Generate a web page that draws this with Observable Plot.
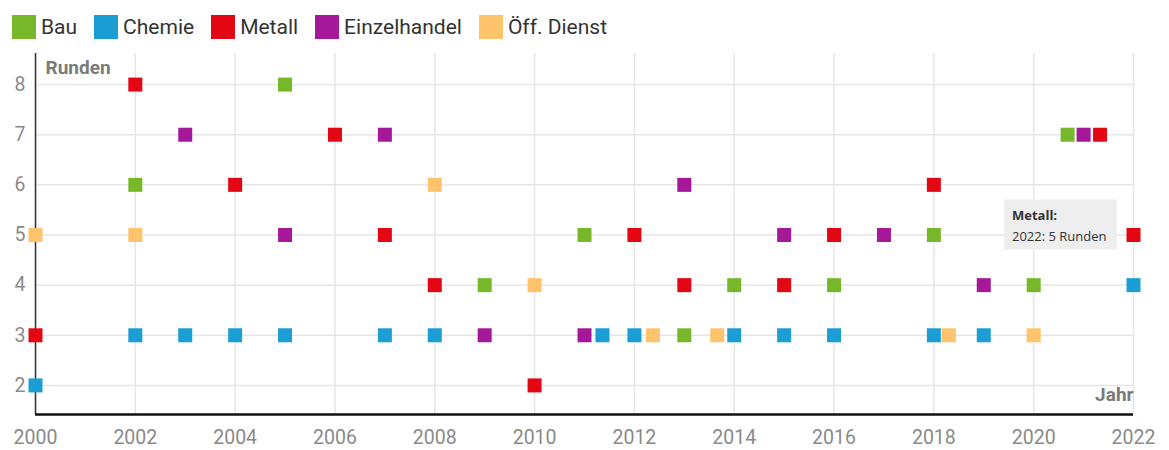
<!DOCTYPE html>
<html>
<head>
<meta charset="utf-8">
<script src="https://cdn.jsdelivr.net/npm/d3@7"></script>
<script src="https://cdn.jsdelivr.net/npm/@observablehq/plot@0.6"></script>
<style>
  html, body { margin: 0; padding: 0; background: #fff; }
  #legend { height: 44px; box-sizing: border-box; padding: 9px 0 0 12px; display: flex; align-items: center; font-family: Roboto, sans-serif; font-size: 21px; color: #333; }
  #legend .item { display: flex; align-items: center; margin-right: 17px; height: 24px; }
  #legend .sw { width: 24px; height: 24px; margin-right: 5px; }
  svg { display: block; }
</style>
</head>
<body>
<div id="legend"></div>
<div id="chart"></div>
<script>
// ---- data ----
const seriesNames = ["Bau", "Chemie", "Metall", "Einzelhandel", "Öff. Dienst"];
const seriesColors = ["#76b82a", "#1a9ed4", "#e30613", "#a5189a", "#fec36b"];

const bauYears = [2002, 2005, 2009, 2011, 2013, 2014, 2016, 2018, 2020, 2020.68];
const bauRunden = [6, 8, 4, 5, 3, 4, 4, 5, 4, 7];

const chemieYears = [2000, 2002, 2003, 2004, 2005, 2007, 2008, 2011.36, 2012, 2014, 2015, 2016, 2018, 2019, 2022];
const chemieRunden = [2, 3, 3, 3, 3, 3, 3, 3, 3, 3, 3, 3, 3, 3, 4];

const metallYears = [2000, 2002, 2004, 2006, 2007, 2008, 2010, 2012, 2013, 2015, 2016, 2018, 2021.33, 2022];
const metallRunden = [3, 8, 6, 7, 5, 4, 2, 5, 4, 4, 5, 6, 7, 5];

const einzelYears = [2003, 2005, 2007, 2009, 2011, 2013, 2015, 2017, 2019, 2021];
const einzelRunden = [7, 5, 7, 3, 3, 6, 5, 5, 4, 7];

const oeffYears = [2000, 2002, 2008, 2010, 2012.37, 2013.66, 2018.3, 2020];
const oeffRunden = [5, 5, 6, 4, 3, 3, 3, 3];

const xTicks = [2000, 2002, 2004, 2006, 2008, 2010, 2012, 2014, 2016, 2018, 2020, 2022];
const yTicks = [2, 3, 4, 5, 6, 7, 8];
const xDomain = [2000, 2022];
const yDomain = [1.42, 8.62];

const tipSeries = ["Metall"];
const tipYear = [2022];
const tipRunden = [5];

// ---- build table ----
const allYears = [bauYears, chemieYears, metallYears, einzelYears, oeffYears];
const allRunden = [bauRunden, chemieRunden, metallRunden, einzelRunden, oeffRunden];
const rows = [];
seriesNames.forEach((s, i) => {
  allYears[i].forEach((y, j) => rows.push({series: s, year: y, runden: allRunden[i][j]}));
});

// ---- legend ----
const legend = document.getElementById("legend");
seriesNames.forEach((s, i) => {
  const it = document.createElement("div");
  it.className = "item";
  const sw = document.createElement("div");
  sw.className = "sw";
  sw.style.background = seriesColors[i];
  const tx = document.createElement("span");
  tx.textContent = s;
  it.appendChild(sw); it.appendChild(tx);
  legend.appendChild(it);
});

// ---- plot ----
const plot = Plot.plot({
  width: 1169,
  height: 406,
  marginTop: 9,
  marginBottom: 36,
  marginLeft: 35,
  marginRight: 36,
  style: {fontFamily: "Roboto, sans-serif", fontSize: "19.5px", color: "#8a8a8a", background: "#fff"},
  x: {domain: xDomain, ticks: xTicks, tickSize: 0, tickPadding: 16, tickFormat: d => String(d), label: null},
  y: {domain: yDomain, ticks: yTicks, tickSize: 0, tickPadding: 10, tickFormat: d => String(d), label: null},
  color: {domain: seriesNames, range: seriesColors},
  marks: [
    Plot.ruleX(xTicks, {stroke: "#e6e6e6", strokeWidth: 1.5}),
    Plot.ruleY(yTicks, {stroke: "#e6e6e6", strokeWidth: 1.5}),
    Plot.ruleX([xDomain[0]], {stroke: "#333", strokeWidth: 1.5}),
    Plot.ruleY([yDomain[0]], {stroke: "#111", strokeWidth: 2.5}),
    Plot.text(["Runden"], {frameAnchor: "top-left", textAnchor: "start", lineAnchor: "top", dx: 10, dy: 7, fontWeight: "bold", fill: "#7a7a7a", fontSize: 19}),
    Plot.text(["Jahr"], {frameAnchor: "bottom-right", textAnchor: "end", lineAnchor: "top", dx: 0, dy: -27, fontWeight: "bold", fill: "#7a7a7a", fontSize: 19}),
    Plot.dot(rows, {x: "year", y: "runden", fill: "series", symbol: "square", r: 7.9, stroke: "none"})
  ]
});
document.getElementById("chart").appendChild(plot);

// ---- tooltip annotation positioned through the plot's scales ----
const sx = plot.scale("x"), sy = plot.scale("y");
const px = sx.apply(tipYear[0]), py = sy.apply(tipRunden[0]);
const g = d3.select(plot).append("g")
  .attr("font-family", "'Open Sans', sans-serif")
  .attr("font-size", 13)
  .attr("text-anchor", "start")
  .attr("fill", "#333");
g.append("rect").attr("x", px - 129).attr("y", py - 35).attr("width", 113).attr("height", 50).attr("fill", "#eeeeee");
g.append("text").attr("x", px - 121).attr("y", py - 15).attr("text-anchor", "start").attr("font-weight", "bold").text(tipSeries[0] + ":");
g.append("text").attr("x", px - 121).attr("y", py + 6).attr("text-anchor", "start").text(tipYear[0] + ": " + tipRunden[0] + " Runden");
</script>
</body>
</html>
